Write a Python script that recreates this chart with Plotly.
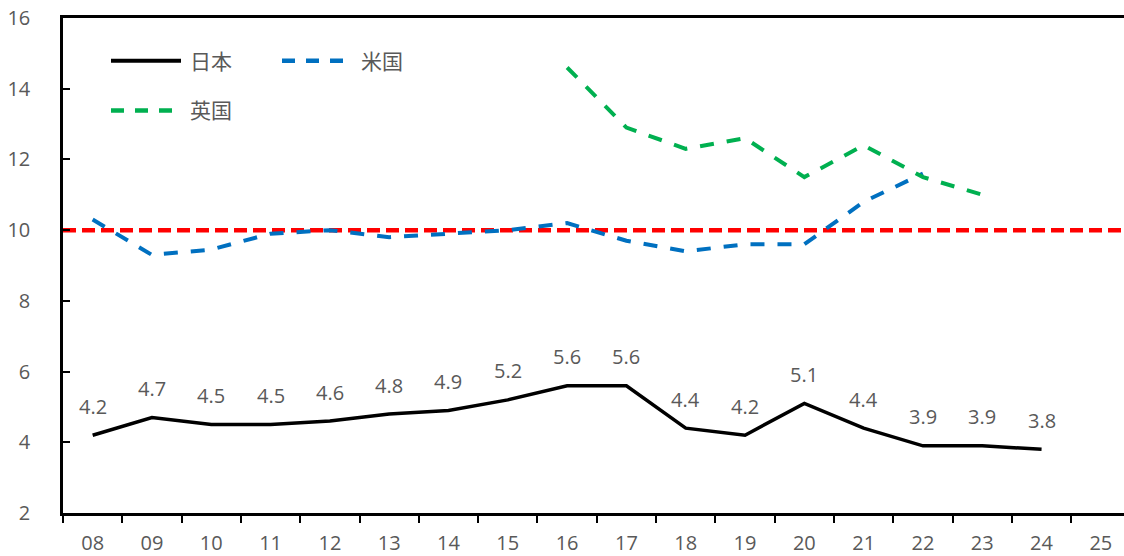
import plotly.graph_objects as go

# Fiscal-year categories shown on the x axis
years = ["08", "09", "10", "11", "12", "13", "14", "15", "16", "17",
         "18", "19", "20", "21", "22", "23", "24", "25"]

# Series values
japan_years = years[:17]
japan = [4.2, 4.7, 4.5, 4.5, 4.6, 4.8, 4.9, 5.2, 5.6, 5.6, 4.4, 4.2, 5.1, 4.4, 3.9, 3.9, 3.8]

us_years = years[:15]
us = [10.3, 9.3, 9.45, 9.9, 10.0, 9.8, 9.9, 10.0, 10.2, 9.7, 9.4, 9.6, 9.6, 10.8, 11.6]

uk_years = years[8:16]
uk = [14.6, 12.9, 12.3, 12.6, 11.5, 12.4, 11.5, 11.0]

reference_level = 10

names = ["日本", "米国", "英国"]
colors = ["#000000", "#0070C0", "#00B050"]

TEXT = "#595959"
FONT = "Open Sans, Noto Sans CJK JP, sans-serif"

fig = go.Figure()

fig.add_trace(go.Scatter(x=us_years, y=us, mode="lines", name=names[1],
                         line=dict(color=colors[1], width=4, dash="14px,13px")))
fig.add_trace(go.Scatter(x=uk_years, y=uk, mode="lines", name=names[2],
                         line=dict(color=colors[2], width=4, dash="14px,13px")))
fig.add_trace(go.Scatter(x=japan_years, y=japan, mode="lines", name=names[0],
                         line=dict(color=colors[0], width=3.5)))

# 10% reference line across the whole plot
fig.add_hline(y=reference_level, line=dict(color="#FF0000", width=4.5, dash="13px,6px"),
              layer="below")

# value labels above the Japan series (category index as position)
for i, v in enumerate(japan):
    fig.add_annotation(x=years.index(japan_years[i]), y=v, text=f"{v:.1f}",
                       showarrow=False, yshift=29,
                       font=dict(family=FONT, size=20, color=TEXT))

# legend drawn as line samples with labels (paper coordinates)
W, H = 1124, 556
L, R, T, B = 63, 0, 18, 40
pw, ph = W - L - R, H - T - B


def px_x(x):
    return (x - L) / pw


def px_y(y):
    return 1 - (y - T) / ph


legend_items = [
    (names[0], colors[0], "solid", 111, 61),
    (names[1], colors[1], "dash", 282, 61),
    (names[2], colors[2], "dash", 111, 111),
]
for label, col, dash, x0, y0 in legend_items:
    fig.add_shape(type="line", xref="paper", yref="paper",
                  x0=px_x(x0), x1=px_x(x0 + 70), y0=px_y(y0), y1=px_y(y0),
                  line=dict(color=col, width=4 if dash == "solid" else 4.5,
                            dash="solid" if dash == "solid" else "13px,11px"))
    fig.add_annotation(xref="paper", yref="paper", x=px_x(x0 + 77), y=px_y(y0),
                       xanchor="left", yanchor="middle", text=label, showarrow=False,
                       font=dict(family=FONT, size=21, color=TEXT))

fig.update_layout(
    width=W, height=H,
    margin=dict(l=L, r=R, t=T, b=B),
    paper_bgcolor="white", plot_bgcolor="white",
    showlegend=False,
    font=dict(family=FONT, size=20, color=TEXT),
)

fig.update_xaxes(
    type="category", categoryorder="array", categoryarray=years,
    range=[-0.5, 17.39], tickson="boundaries",
    ticks="outside", ticklen=7, tickwidth=2, tickcolor="black",
    showline=True, linecolor="black", linewidth=2.5, mirror=True,
    showgrid=False, zeroline=False, ticklabelstandoff=10,
    tickfont=dict(family=FONT, size=20, color=TEXT),
)
fig.update_yaxes(
    range=[2, 16], dtick=2, tick0=2,
    ticks="inside", ticklen=7, tickwidth=2, tickcolor="black",
    showline=True, linecolor="black", linewidth=2.5,
    showgrid=False, zeroline=False, ticklabelstandoff=26,
    tickfont=dict(family=FONT, size=20, color=TEXT),
)

fig.write_html("out.html")
